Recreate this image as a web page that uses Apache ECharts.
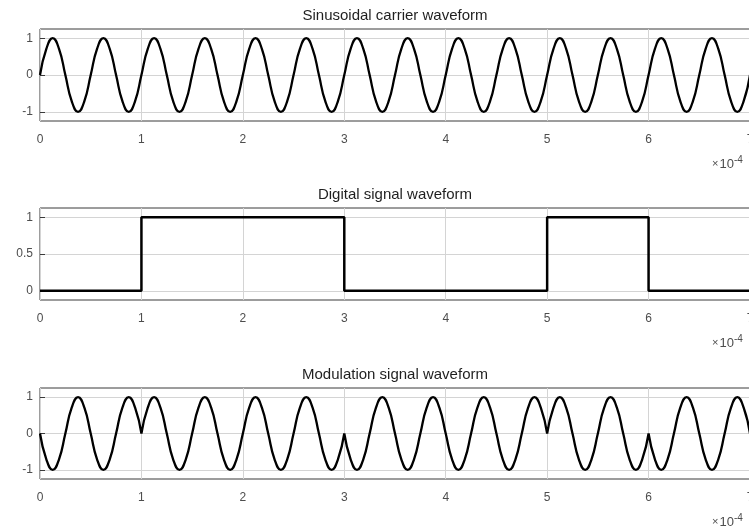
<!DOCTYPE html>
<html>
<head>
<meta charset="utf-8">
<script src="https://cdn.jsdelivr.net/npm/echarts@6/dist/echarts.min.js"></script>
<style>
  html, body { margin: 0; padding: 0; background: #fff; }
  #chart { width: 749px; height: 532px; }
</style>
</head>
<body>
<div id="chart"></div>
<script>
// time axis in units of 1e-4 s
const xTicks = [0, 1, 2, 3, 4, 5, 6, 7];
const sampleStep = 0.0625; // carrier 20 kHz, 8 samples per period

// carrier, one row per period (0 .. 7e-4 s)
const carrierValues = [
  0, 0.71, 1, 0.71, 0, -0.71, -1, -0.71,
  0, 0.71, 1, 0.71, 0, -0.71, -1, -0.71,
  0, 0.71, 1, 0.71, 0, -0.71, -1, -0.71,
  0, 0.71, 1, 0.71, 0, -0.71, -1, -0.71,
  0, 0.71, 1, 0.71, 0, -0.71, -1, -0.71,
  0, 0.71, 1, 0.71, 0, -0.71, -1, -0.71,
  0, 0.71, 1, 0.71, 0, -0.71, -1, -0.71,
  0, 0.71, 1, 0.71, 0, -0.71, -1, -0.71,
  0, 0.71, 1, 0.71, 0, -0.71, -1, -0.71,
  0, 0.71, 1, 0.71, 0, -0.71, -1, -0.71,
  0, 0.71, 1, 0.71, 0, -0.71, -1, -0.71,
  0, 0.71, 1, 0.71, 0, -0.71, -1, -0.71,
  0, 0.71, 1, 0.71, 0, -0.71, -1, -0.71,
  0, 0.71, 1, 0.71, 0, -0.71, -1, -0.71,
  0
];

// one bit per 1e-4 s
const bitValues = [0, 1, 1, 0, 0, 1, 0];

// modulated signal, same sampling as carrier
const modulationValues = [
  0, -0.71, -1, -0.71, 0, 0.71, 1, 0.71,
  0, -0.71, -1, -0.71, 0, 0.71, 1, 0.71,
  0, 0.71, 1, 0.71, 0, -0.71, -1, -0.71,
  0, 0.71, 1, 0.71, 0, -0.71, -1, -0.71,
  0, 0.71, 1, 0.71, 0, -0.71, -1, -0.71,
  0, 0.71, 1, 0.71, 0, -0.71, -1, -0.71,
  0, -0.71, -1, -0.71, 0, 0.71, 1, 0.71,
  0, -0.71, -1, -0.71, 0, 0.71, 1, 0.71,
  0, -0.71, -1, -0.71, 0, 0.71, 1, 0.71,
  0, -0.71, -1, -0.71, 0, 0.71, 1, 0.71,
  0, 0.71, 1, 0.71, 0, -0.71, -1, -0.71,
  0, 0.71, 1, 0.71, 0, -0.71, -1, -0.71,
  0, -0.71, -1, -0.71, 0, 0.71, 1, 0.71,
  0, -0.71, -1, -0.71, 0, 0.71, 1, 0.71,
  0
];
// phase flips where the curve has a cusp
const phaseFlips = [1, 3, 5, 6];

const titles = ['Sinusoidal carrier waveform', 'Digital signal waveform', 'Modulation signal waveform'];
const yTicks = [[-1, 0, 1], [0, 0.5, 1], [-1, 0, 1]];
const yRanges = [[-1.25, 1.25], [-0.125, 1.125], [-1.25, 1.25]];

const carrierData = carrierValues.map((v, i) => [i * sampleStep, v]);

const digitalData = bitValues.map((b, i) => [i, b]);
digitalData.push([bitValues.length, bitValues[bitValues.length - 1]]);

const modulationData = [];
modulationValues.forEach((v, i) => {
  const t = i * sampleStep;
  modulationData.push([t, v]);
  if (phaseFlips.includes(t)) {
    modulationData.push([t, null]);
    modulationData.push([t, v]);
  }
});

const tops = [29, 208, 388];
const heights = [92, 92, 91];
const textColor = '#1f1f1f';
const labelColor = '#4d4d4d';
const gridColor = '#d4d4d4';

const chart = echarts.init(document.getElementById('chart'));

const grids = tops.map((top, i) => ({
  left: 40, width: 710, top: top, height: heights[i],
  outerBoundsMode: 'none', containLabel: false,
  show: true, borderColor: '#3a3a3a', borderWidth: 1, backgroundColor: 'transparent'
}));

const xAxes = tops.map((_, i) => ({
  type: 'value', gridIndex: i, min: 0, max: 7, interval: 1,
  axisLine: { show: false },
  axisTick: { show: false },
  axisLabel: {
    color: labelColor, fontSize: 12, margin: 13, fontFamily: 'Liberation Sans',
    showMaxLabel: true, hideOverlap: false, formatter: v => String(v)
  },
  splitLine: { show: true, lineStyle: { color: gridColor, width: 1 } }
}));

const yAxes = tops.map((_, i) => ({
  type: 'value', gridIndex: i, min: yRanges[i][0], max: yRanges[i][1],
  axisLine: { show: false },
  axisTick: {
    show: true, inside: true, length: 5, customValues: yTicks[i],
    lineStyle: { color: '#3a3a3a' }
  },
  axisLabel: {
    color: labelColor, fontSize: 12, margin: 7, fontFamily: 'Liberation Sans',
    customValues: yTicks[i], formatter: v => String(v)
  },
  splitLine: { show: true, lineStyle: { color: gridColor, width: 1 } }
}));

const lineBase = {
  type: 'line', showSymbol: false, symbol: 'none', silent: true, animation: false,
  lineStyle: { color: '#000', width: 2.3 }
};

const graphics = [];
titles.forEach((t, i) => {
  graphics.push({
    type: 'text', x: 395, y: tops[i] - 13,
    style: {
      text: t, fill: textColor, font: '15px "Liberation Sans"',
      textAlign: 'center', textVerticalAlign: 'middle'
    }
  });
  graphics.push({
    type: 'text', x: 712, y: tops[i] + heights[i] + 43,
    style: {
      text: '{a|×}{b|10}{c|-4}',
      textVerticalAlign: 'middle',
      rich: {
        a: { fontSize: 11, fill: labelColor, fontFamily: 'Liberation Sans', padding: [0, 1, 0, 0] },
        b: { fontSize: 13, fill: labelColor, fontFamily: 'Liberation Sans' },
        c: { fontSize: 10, fill: labelColor, fontFamily: 'Liberation Sans', verticalAlign: 'top', padding: [0, 0, 8, 0] }
      }
    }
  });
});

chart.setOption({
  animation: false,
  grid: grids,
  xAxis: xAxes,
  yAxis: yAxes,
  graphic: graphics,
  series: [
    Object.assign({}, lineBase, { name: 'carrier', xAxisIndex: 0, yAxisIndex: 0, smooth: 0.5, data: carrierData }),
    Object.assign({}, lineBase, { name: 'digital', xAxisIndex: 1, yAxisIndex: 1, step: 'end', data: digitalData,
      lineStyle: { color: '#000', width: 2.5 } }),
    Object.assign({}, lineBase, { name: 'modulation', xAxisIndex: 2, yAxisIndex: 2, smooth: 0.5, data: modulationData })
  ]
});
</script>
</body>
</html>
